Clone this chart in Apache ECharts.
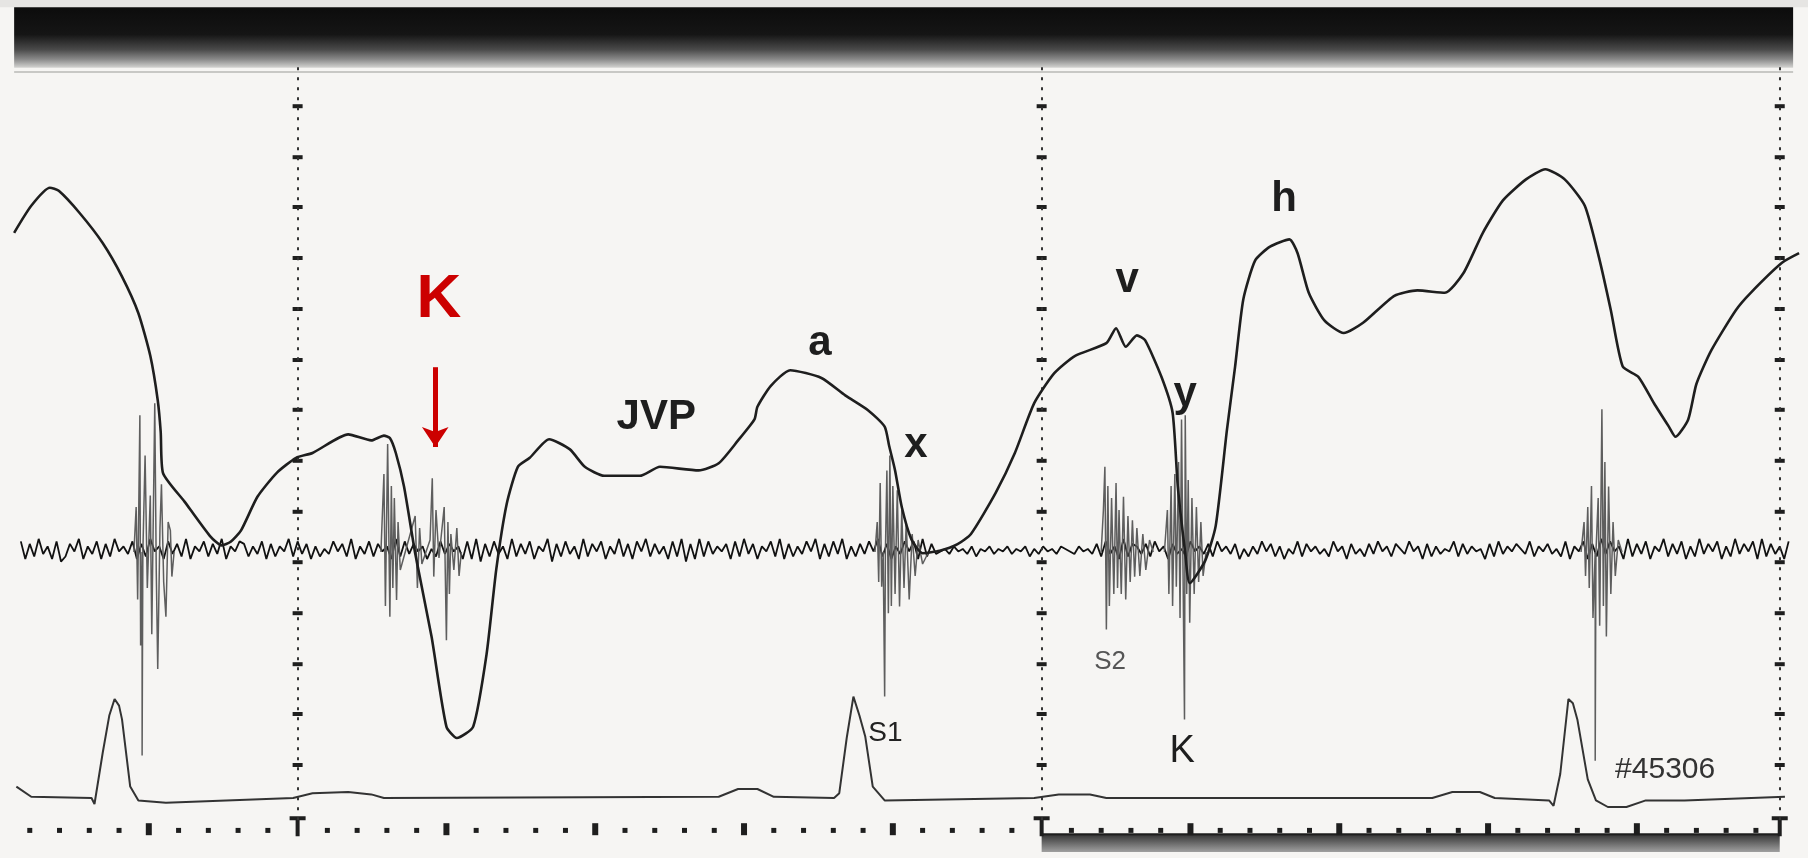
<!DOCTYPE html>
<html>
<head>
<meta charset="utf-8">
<title>JVP</title>
<style>
  html, body { margin: 0; padding: 0; background: #f6f5f3; }
  #chart { width: 1808px; height: 858px; }
</style>
</head>
<body>
<div id="chart"></div>
<script src="https://cdn.jsdelivr.net/npm/echarts@6/dist/echarts.min.js"></script>
<script>
// time in ms (0 = first one-second mark), level in mm of paper from the bottom edge

// jugular venous pulse
var jvpPoints = [
  [-381, 104.2], [-358, 108.7], [-333, 111.7], [-321, 111.2], [-293, 107.5], [-262, 102.5],
  [-236, 96.9], [-214, 90.8], [-198, 83.7], [-188, 76.3], [-184, 71.0], [-181, 64.2],
  [-152, 59.4], [-118, 53.7], [-102, 52.1], [-90, 52.7], [-76, 54.6], [-54, 60.2],
  [-28, 64.2], [-2, 66.7], [20, 67.5], [68, 70.6], [99, 69.6], [116, 70.4], [124, 70.0],
  [132, 67.5], [143, 61.9], [158, 50.8], [180, 36.9], [200, 21.9], [214, 20.0], [236, 21.9],
  [254, 34.0], [267, 48.1], [281, 59.0], [296, 65.2], [312, 66.7], [338, 69.8], [366, 68.1],
  [386, 65.2], [412, 63.7], [460, 63.7], [487, 65.2], [539, 64.6], [566, 65.8], [592, 69.6],
  [614, 73.1], [618, 75.2], [636, 78.7], [662, 81.3], [704, 80.0], [736, 77.1], [767, 74.6],
  [789, 71.9], [795, 68.7], [803, 64.6], [812, 58.5], [825, 53.1], [840, 50.8], [863, 51.2],
  [887, 52.3], [905, 54.0], [938, 60.8], [964, 67.5], [990, 75.8], [1017, 80.8], [1045, 83.7],
  [1087, 85.8], [1100, 88.3], [1113, 85.2], [1128, 87.1], [1139, 86.3], [1161, 80.2],
  [1176, 74.2], [1183, 61.9], [1193, 50.8], [1199, 45.8], [1220, 49.6], [1234, 55.4],
  [1249, 71.3], [1260, 81.9], [1271, 93.1], [1287, 99.6], [1307, 101.9], [1333, 103.1],
  [1344, 100.8], [1359, 94.2], [1380, 89.6], [1406, 87.5], [1432, 89.2], [1474, 93.7],
  [1505, 94.6], [1542, 94.2], [1567, 97.5], [1593, 104.2], [1620, 109.6], [1651, 113.1],
  [1677, 114.8], [1703, 113.1], [1730, 108.7], [1750, 99.6], [1765, 91.3], [1781, 81.9],
  [1802, 80.2], [1823, 75.8], [1843, 71.9], [1852, 70.2], [1869, 73.1], [1880, 79.0],
  [1900, 84.6], [1933, 91.3], [1953, 94.2], [1995, 99.2], [2018, 100.8]
];

// lower trace
var lowerPoints = [
  [-378, 11.9], [-358, 10.2], [-277, 10.0], [-273, 9.0], [-262, 17.5], [-253, 23.8],
  [-246, 26.5], [-240, 25.4], [-236, 23.1], [-225, 11.9], [-214, 9.6], [-177, 9.2],
  [-6, 10.0], [20, 10.8], [68, 11.0], [99, 10.6], [116, 10.0], [566, 10.2], [592, 11.5],
  [618, 11.5], [640, 10.2], [721, 10.0], [728, 10.8], [738, 20.0], [747, 26.9], [755, 23.8],
  [763, 20.2], [773, 11.9], [789, 9.6], [990, 10.0], [1023, 10.6], [1065, 10.6], [1087, 10.0],
  [1525, 10.0], [1552, 11.0], [1589, 11.0], [1609, 10.0], [1682, 9.6], [1688, 8.7],
  [1697, 14.0], [1708, 26.5], [1714, 25.8], [1720, 23.1], [1734, 13.1], [1745, 9.6],
  [1761, 8.5], [1786, 8.5], [1812, 9.6], [1864, 9.6], [1999, 10.2]
];

// phonocardiogram background noise, one digit per 6 ms sample (4.5 = baseline)
var phonoStart = -372;
var phonoStep = 6;
var phonoBase = 51.3;
var phonoNoise = [
  "81729361802749163817294638172946183729164827391648",
  "72638172649283716253847291638274619283746152837461",
  "81907283619273816490728361927481639271849273618290",
  "71928364718293716482917263849172839162738492716384",
  "81927345364536254635463546253645365436453728361927",
  "63728461735284637284637152638472615382746352846173",
  "52738462753846172635482736451728364753826473528164",
  "81729384619273816492738162937481629374819273618"
];

// heart sound bursts
var soundBursts = [
  [[-220, 51], [-217, 58.5], [-215, 43.1], [-212, 73.8], [-211, 35.4], [-209, 51], [-209, 17.1],
   [-208, 51], [-205, 67.1], [-202, 45], [-198, 60.4], [-196, 37.3], [-192, 75.8], [-190, 48],
   [-188, 31.5], [-185, 55], [-183, 62.3], [-180, 46], [-177, 40.2], [-174, 56], [-171, 54.6],
   [-169, 46.9], [-166, 51]],
  [[112, 51], [116, 64], [118, 42], [121, 69], [124, 40.2], [126, 62], [128, 45], [130, 60],
   [133, 43], [135, 56], [138, 48], [158, 57], [161, 45], [164, 55], [167, 49], [178, 53],
   [181, 63.3], [183, 46.9], [186, 58], [190, 50], [197, 58.5], [200, 36.3], [202, 56],
   [204, 44], [206, 54], [210, 48], [214, 55], [217, 47], [220, 51]],
  [[776, 51], [779, 56], [781, 46], [783, 62.5], [785, 45.2], [787, 51], [789, 26.9], [790, 51],
   [792, 64.6], [794, 40.8], [796, 67.1], [798, 42], [800, 62], [803, 44], [806, 61.3],
   [809, 41.9], [812, 58], [815, 45], [818, 56], [822, 43.1], [826, 54], [830, 47], [834, 53],
   [840, 49], [848, 51]],
  [[1080, 51], [1083, 58], [1085, 65.2], [1087, 38.1], [1089, 62], [1091, 42], [1094, 60],
   [1097, 44], [1100, 62.5], [1102, 45], [1104, 58], [1107, 44], [1110, 60.2], [1113, 43.1],
   [1116, 57], [1119, 46], [1122, 56.3], [1125, 46.9], [1128, 55], [1132, 47], [1136, 54],
   [1140, 48], [1145, 53], [1150, 51]],
  [[1165, 51], [1169, 58], [1171, 44], [1174, 62], [1176, 42], [1179, 64], [1181, 45.2],
   [1184, 66], [1186, 40], [1188, 73.1], [1190, 48], [1192, 23.1], [1193, 73.8], [1195, 44],
   [1197, 63], [1199, 39.2], [1202, 60], [1205, 44], [1208, 58.5], [1211, 46], [1214, 56],
   [1217, 47], [1221, 51]],
  [[1725, 51], [1729, 56], [1731, 47], [1734, 58.5], [1736, 45], [1739, 62], [1741, 40],
   [1744, 51], [1744, 16.2], [1745, 51], [1748, 60], [1750, 38.7], [1753, 74.8], [1755, 42],
   [1757, 66], [1759, 36.9], [1762, 61.9], [1765, 44], [1768, 56], [1771, 47], [1775, 53],
   [1780, 51]]
];

// timing marks along the bottom
var secondMarks = [0, 1000, 1992];
var tickFrom = -360, tickTo = 1960, minorStep = 40, majorStep = 200;
// divisions on the one-second lines
var divisionLevels = [125.3, 116.8, 108.5, 100, 91.5, 83, 74.7, 66.2, 57.7, 49.3, 40.8, 32.3, 24, 15.5];

// annotations
var markerLabel = ["K", 190, 93];
var markerArrow = [[185, 81.8], [185, 68.5]];
var traceLabel = ["JVP", 482, 73.5];
var waveLabels = [["a", 702, 85.8], ["x", 831, 68.7], ["v", 1115, 96.2], ["y", 1193, 77.2], ["h", 1326, 109.8]];
var soundLabels = [["S1", 790, 20.8], ["S2", 1092, 32.7], ["K", 1189, 17.8]];
var plateLabel = ["#45306", 1838, 14.7];

var FONT = "'Liberation Sans', Arial, sans-serif";

// noise trace from the digit strings
var noiseData = [];
phonoNoise.join("").split("").forEach(function (d, i) {
  noiseData.push([phonoStart + i * phonoStep, phonoBase + (Number(d) - 4.5) * 0.42]);
});

// tick marks
var minorData = [], majorData = [];
for (var t = tickFrom; t <= tickTo; t += minorStep) {
  if (t === 0 || t === 1000) continue;
  if (t % majorStep === 0) majorData.push([t, 4.8]);
  else minorData.push([t, 4.6]);
}
var divisionData = [];
secondMarks.forEach(function (s) {
  divisionLevels.forEach(function (lv) { divisionData.push([s, lv]); });
});

function textItem(arr, size, weight, color) {
  return {
    value: [arr[1], arr[2]],
    label: {
      show: true, position: "inside", formatter: arr[0], opacity: 1,
      fontFamily: FONT, fontSize: size, fontWeight: weight, color: color
    }
  };
}

var labelData = [];
labelData.push(textItem(markerLabel, 62, "bold", "#cc0000"));
labelData.push(textItem(traceLabel, 42, "bold", "#1e1e1e"));
waveLabels.forEach(function (l) { labelData.push(textItem(l, 42, "bold", "#1e1e1e")); });
labelData.push(textItem(soundLabels[0], 28, "normal", "#222"));
labelData.push(textItem(soundLabels[1], 26, "normal", "#555"));
labelData.push(textItem(soundLabels[2], 38, "normal", "#1e1e1e"));
labelData.push(textItem(plateLabel, 30, "normal", "#333"));

var dom = document.getElementById("chart");
var myChart = echarts.init(dom, null, { renderer: "canvas" });

var tickStyle = { color: "#1e1e1e", opacity: 1 };

var series = [
  // paper decorations
  {
    type: "line", data: [], silent: true, z: 1,
    markArea: {
      silent: true,
      data: [
        [{ coord: [-400, 143], itemStyle: { color: "#e6e5e3", opacity: 1 } }, { coord: [2030, 141.8] }],
        [{
          coord: [-381, 141.8],
          itemStyle: {
            opacity: 1,
            color: new echarts.graphic.LinearGradient(0, 0, 0, 1, [
              { offset: 0, color: "#0c0c0c" },
              { offset: 0.45, color: "#151515" },
              { offset: 0.7, color: "#4a4a4a" },
              { offset: 0.86, color: "#8a8a8a" },
              { offset: 1, color: "#d4d4d2" }
            ])
          }
        }, { coord: [2010, 131.7] }],
        [{
          coord: [1000, 3.8],
          itemStyle: {
            opacity: 1,
            color: new echarts.graphic.LinearGradient(0, 0, 0, 1, [
              { offset: 0, color: "#3a3a3a" },
              { offset: 1, color: "#a0a0a0" }
            ])
          }
        }, { coord: [1992, 1.0] }]
      ]
    },
    markLine: {
      silent: true, symbol: "none", label: { show: false },
      data: [
        [{ coord: [-381, 131], lineStyle: { color: "#b8b8b6", width: 1.5, type: "solid" } }, { coord: [2010, 131] }],
        [{ coord: [1000, 3.9], lineStyle: { color: "#1e1e1e", width: 2.5, type: "solid" } }, { coord: [1992, 3.9] }]
      ].concat(secondMarks.map(function (s) {
        return [{ coord: [s, 131.8], lineStyle: { color: "#333", width: 2, type: [3, 7] } }, { coord: [s, 5.5] }];
      }))
    }
  },
  {
    type: "scatter", data: divisionData, symbol: "rect", symbolSize: [10, 4], silent: true, z: 2,
    itemStyle: tickStyle
  },
  {
    type: "scatter", data: minorData, symbol: "rect", symbolSize: [5, 5], silent: true, z: 2,
    itemStyle: tickStyle
  },
  {
    type: "scatter", data: majorData, symbol: "rect", symbolSize: [6, 12], silent: true, z: 2,
    itemStyle: tickStyle
  },
  {
    type: "scatter", data: secondMarks.map(function (s) { return [s, 5.3]; }),
    symbol: "path://M0 0H16V4H10V20H6V4H0Z", symbolSize: [16, 20], silent: true, z: 2,
    itemStyle: tickStyle
  },
  // phonocardiogram
  {
    type: "line", data: noiseData, showSymbol: false, silent: true, z: 3,
    lineStyle: { color: "#111", width: 1.8 }
  }
];

soundBursts.forEach(function (b) {
  series.push({
    type: "line", data: b, showSymbol: false, silent: true, z: 4,
    lineStyle: { color: "#5e5e5e", width: 1.5 }
  });
});

series.push({
  type: "line", data: lowerPoints, showSymbol: false, silent: true, z: 5,
  lineStyle: { color: "#333", width: 2 }
});

series.push({
  type: "line", data: jvpPoints, showSymbol: false, smooth: 0.2, silent: true, z: 6,
  lineStyle: { color: "#1e1e1e", width: 2.6 },
  markLine: {
    silent: true, symbol: ["none", "arrow"], symbolSize: [20, 20], label: { show: false },
    lineStyle: { color: "#cc0000", width: 5, type: "solid", opacity: 1 },
    data: [[{ coord: markerArrow[0] }, { coord: markerArrow[1] }]]
  }
});

series.push({
  type: "scatter", data: labelData, symbolSize: 1, silent: true, z: 8,
  itemStyle: { color: "transparent", opacity: 1 }
});

var option = {
  backgroundColor: "#f6f5f3",
  animation: false,
  grid: { left: 0, right: 0, top: 0, bottom: 0 },
  xAxis: { type: "value", min: -400, max: 2030, show: false },
  yAxis: { type: "value", min: 0, max: 143, show: false },
  series: series
};

myChart.setOption(option);
</script>
</body>
</html>
